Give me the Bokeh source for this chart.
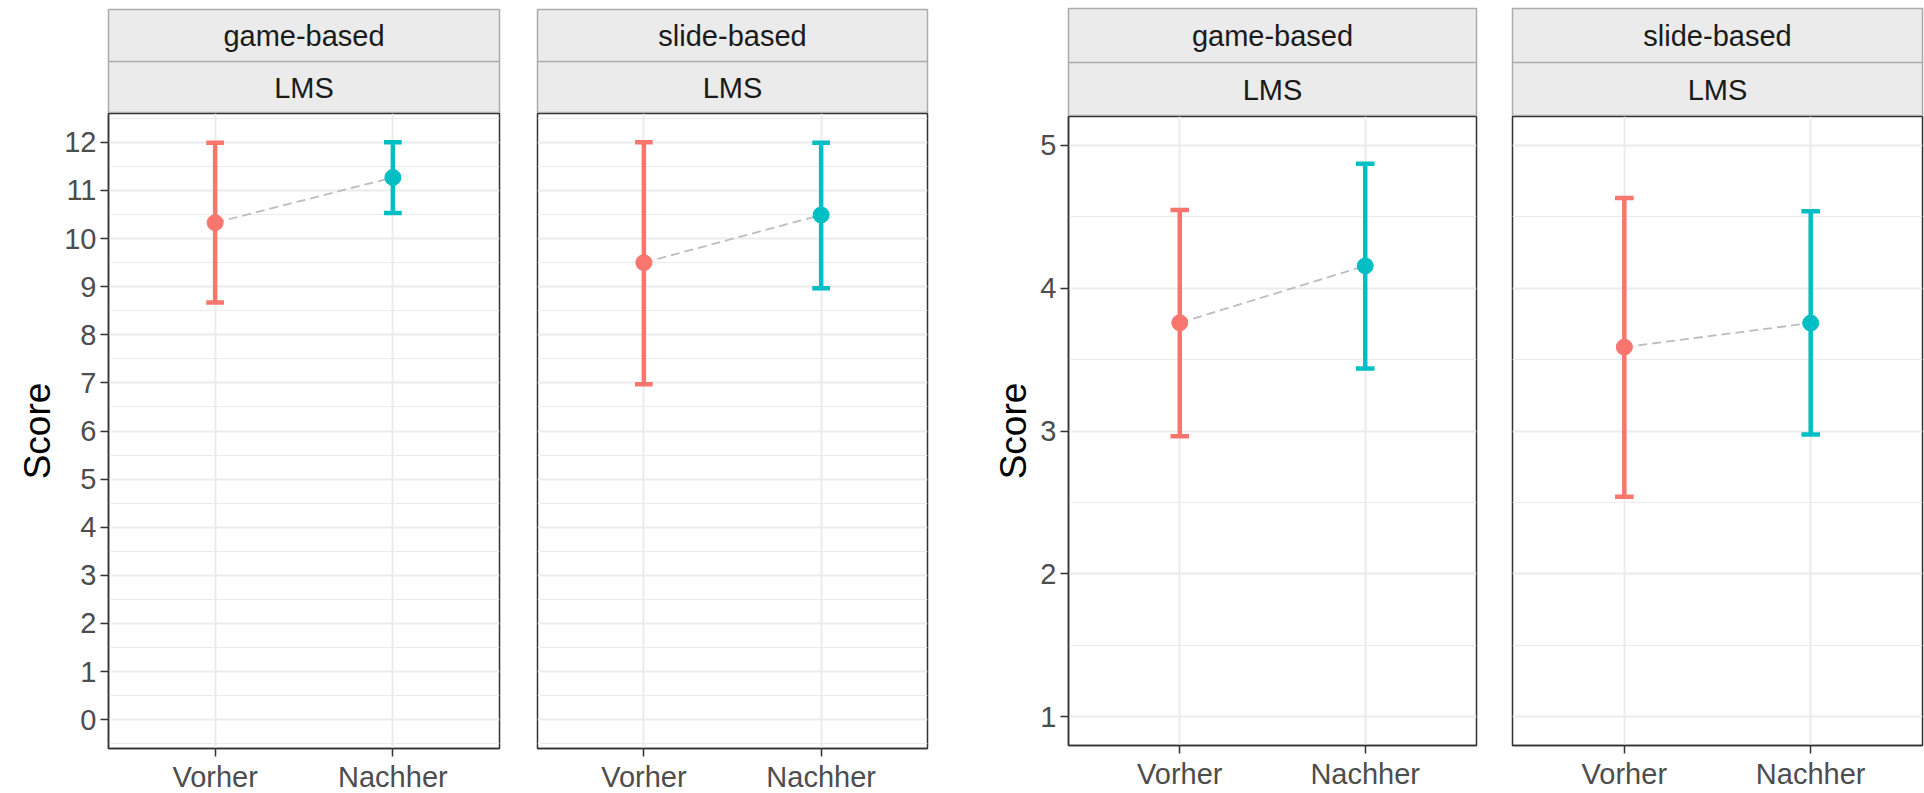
from bokeh.plotting import figure
from bokeh.layouts import row, column
from bokeh.models import Range1d, FixedTicker, Label, Span
from bokeh.embed import file_html
from bokeh.resources import INLINE

# ---------------- data ----------------
conditions = ["Vorher", "Nachher"]
groups = ["game-based", "slide-based"]
platform = "LMS"
y_label = "Score"
colors = ["#F8766D", "#00BFC4"]

# left chart (score 0-12)
a_game_mean = [10.33, 11.27]
a_game_lower = [8.67, 10.53]
a_game_upper = [11.99, 12.00]
a_slide_mean = [9.50, 10.49]
a_slide_lower = [6.97, 8.97]
a_slide_upper = [12.00, 11.99]
a_ticks = [0, 1, 2, 3, 4, 5, 6, 7, 8, 9, 10, 11, 12]
a_limits = (0, 12)

# right chart (score 1-5)
b_game_mean = [3.757, 4.155]
b_game_lower = [2.964, 3.438]
b_game_upper = [4.546, 4.870]
b_slide_mean = [3.587, 3.755]
b_slide_lower = [2.540, 2.976]
b_slide_upper = [4.630, 4.537]
b_ticks = [1, 2, 3, 4, 5]
b_limits = (1, 5)

FONT = "Liberation Sans"


def make_strip(label_top, label_bottom, fw, fh, bl, br, bt):
    s = figure(frame_width=fw, frame_height=fh, x_range=Range1d(0, 1), y_range=Range1d(0, 2),
               output_backend="svg", toolbar_location=None, title=None,
               min_border_left=bl, min_border_right=br, min_border_top=bt, min_border_bottom=0,
               x_axis_location=None, y_axis_location=None)
    s.grid.visible = False
    s.background_fill_color = "#EBEBEB"
    s.border_fill_color = "white"
    s.outline_line_color = "#ABABAB"
    s.outline_line_width = 1.5
    s.add_layout(Span(location=1, dimension="width", line_color="#ABABAB", line_width=1.5))
    for yy, txt in ((1.5, label_top), (0.5, label_bottom)):
        s.add_layout(Label(x=0.5, y=yy, text=txt, text_align="center", text_baseline="middle",
                           text_font_size="29px", text_font=FONT, text_color="#1A1A1A"))
    return s


def make_panel(mean, lower, upper, limits, ticks, show_y, fw, fh, bl, br):
    n = len(conditions)
    xs = list(range(1, n + 1))
    lo, hi = limits
    pad = 0.05 * (hi - lo)
    p = figure(frame_width=fw, frame_height=fh,
               x_range=Range1d(1 - 0.6, n + 0.6), y_range=Range1d(lo - pad, hi + pad),
               output_backend="svg", toolbar_location=None, title=None,
               min_border_left=bl, min_border_right=br, min_border_top=0, min_border_bottom=0,
               y_axis_location="left" if show_y else None)
    p.background_fill_color = "white"
    p.border_fill_color = "white"
    p.outline_line_color = "#333333"
    p.outline_line_width = 1.5

    minors = [t + 0.5 for t in ticks] + [ticks[0] - 0.5]
    minors = [m for m in minors if lo - pad < m < hi + pad]

    p.xgrid.ticker = FixedTicker(ticks=xs)
    p.ygrid.ticker = FixedTicker(ticks=ticks, minor_ticks=minors)
    p.grid.grid_line_color = "#EBEBEB"
    p.grid.grid_line_width = 2
    p.ygrid.minor_grid_line_color = "#EBEBEB"
    p.ygrid.minor_grid_line_width = 1

    p.xaxis.ticker = FixedTicker(ticks=xs)
    p.xaxis.major_label_overrides = {x: c for x, c in zip(xs, conditions)}
    axes = [p.xaxis]
    if show_y:
        p.yaxis.ticker = FixedTicker(ticks=ticks)
        p.yaxis.axis_label = y_label
        p.yaxis.axis_label_text_font = FONT
        p.yaxis.axis_label_text_font_size = "37px"
        p.yaxis.axis_label_text_font_style = "normal"
        p.yaxis.axis_label_text_color = "#000000"
        p.yaxis.axis_label_standoff = 3
        axes.append(p.yaxis)
    for ax in axes:
        ax.major_label_text_font = FONT
        ax.major_label_text_font_size = "29px"
        ax.major_label_text_color = "#4D4D4D"
        ax.major_label_standoff = 4
        ax.major_tick_out = 8
        ax.major_tick_in = 0
        ax.major_tick_line_color = "#333333"
        ax.major_tick_line_width = 1.5
        ax.minor_tick_out = 0
        ax.minor_tick_in = 0
        ax.axis_line_color = "#333333"
        ax.axis_line_width = 1.5

    hw = 0.05
    p.segment(x0=xs, y0=lower, x1=xs, y1=upper, line_color=colors, line_width=4.5)
    p.segment(x0=[x - hw for x in xs], y0=upper, x1=[x + hw for x in xs], y1=upper,
              line_color=colors, line_width=4.5)
    p.segment(x0=[x - hw for x in xs], y0=lower, x1=[x + hw for x in xs], y1=lower,
              line_color=colors, line_width=4.5)
    p.line(xs, mean, line_color="#BDBDBD", line_width=1.8, line_dash="9 5")
    p.scatter(xs, mean, size=16, fill_color=colors, line_color=colors)
    return p


# left chart
A1 = make_panel(a_game_mean, a_game_lower, a_game_upper, a_limits, a_ticks, True, 391, 635, 108, 2)
A1s = make_strip(groups[0], platform, 391, 104, 108, 2, 9)
A2 = make_panel(a_slide_mean, a_slide_lower, a_slide_upper, a_limits, a_ticks, False, 390, 635, 36, 2)
A2s = make_strip(groups[1], platform, 390, 104, 36, 2, 9)

# right chart
B1 = make_panel(b_game_mean, b_game_lower, b_game_upper, b_limits, b_ticks, True, 408, 629, 139, 2)
B1s = make_strip(groups[0], platform, 408, 108, 139, 2, 8)
B2 = make_panel(b_slide_mean, b_slide_lower, b_slide_upper, b_limits, b_ticks, False, 410, 629, 34, 2)
B2s = make_strip(groups[1], platform, 410, 108, 34, 2, 8)

layout = row(column(A1s, A1, spacing=0), column(A2s, A2, spacing=0),
             column(B1s, B1, spacing=0), column(B2s, B2, spacing=0), spacing=0)

open("out.html", "w").write(file_html(layout, INLINE))
